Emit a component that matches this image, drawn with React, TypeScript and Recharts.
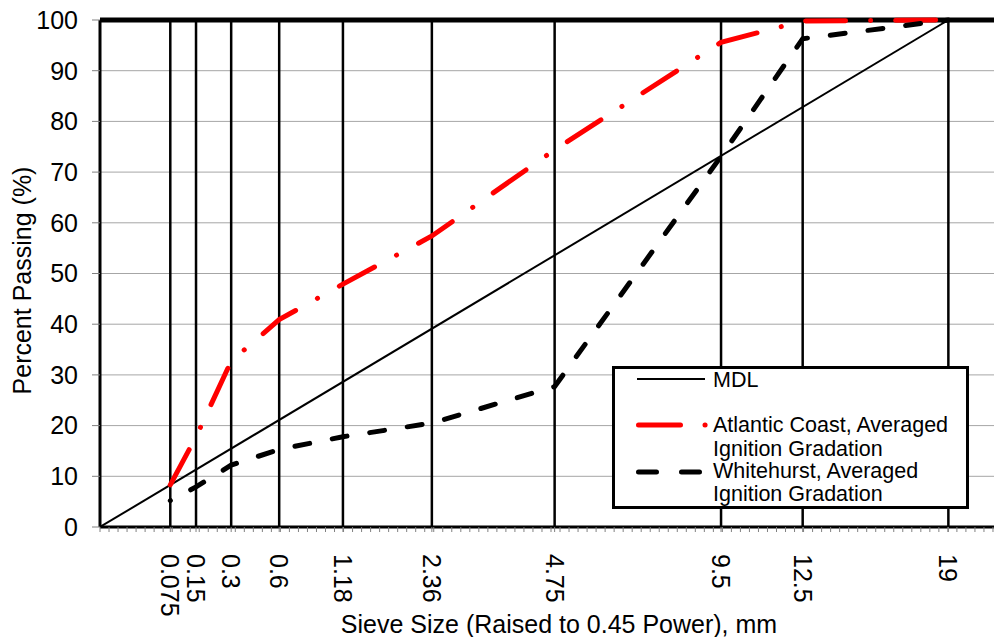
import { LineChart, Line, XAxis, YAxis, CartesianGrid, ReferenceLine } from "recharts";

const FONT = '"Liberation Sans", Arial, sans-serif';

// sieve sizes, mm
const sieves = [0.075, 0.15, 0.3, 0.6, 1.18, 2.36, 4.75, 9.5, 12.5, 19];
const sieveLabels = ["0.075", "0.15", "0.3", "0.6", "1.18", "2.36", "4.75", "9.5", "12.5", "19"];

// percent passing
const atlantic = [8.3, 17.8, 32.7, 40.9, 47.9, 57.4, 74.4, 95.6, 99.8, 100];
const whitehurst = [5.2, 7.9, 12.2, 15.3, 17.8, 20.5, 27.7, 73.1, 96.3, 100];
const mdlSizes = [0, 19];
const mdl = [0, 100];

const yTicks = [0, 10, 20, 30, 40, 50, 60, 70, 80, 90, 100];

const pow = (s: number) => Math.pow(s, 0.45);
const sieveX = sieves.map(pow);
// small unlabeled ticks along the x axis
const minorTicks = Array.from({ length: 101 }, (_, i) => +(i * 0.04).toFixed(2));

const atlanticData = sieves.map((s, i) => ({ x: pow(s), v: atlantic[i] }));
const whitehurstData = sieves.map((s, i) => ({ x: pow(s), v: whitehurst[i] }));
const mdlData = mdlSizes.map((s, i) => ({ x: pow(s), v: mdl[i] }));

function SieveTick(props: any) {
  const { x, y, payload } = props;
  const idx = sieveX.findIndex((v) => Math.abs(v - payload.value) < 1e-6);
  if (idx < 0) return <g />;
  const ty = y + 20;
  return (
    <text
      x={x}
      y={ty}
      transform={`rotate(90, ${x}, ${ty})`}
      textAnchor="start"
      dominantBaseline="central"
      fontSize={25}
      fontFamily={FONT}
      fill="#000"
    >
      {sieveLabels[idx]}
    </text>
  );
}

function ChartLegend() {
  const t = { fontSize: 21.5, fontFamily: FONT, fill: "#000", dominantBaseline: "central" as const };
  return (
    <div
      style={{
        position: "absolute",
        left: 612,
        top: 366,
        width: 357,
        height: 143,
        border: "3px solid #000",
        boxSizing: "border-box",
        background: "#fff",
      }}
    >
      <svg width={351} height={137} style={{ position: "absolute", left: 0, top: 0, overflow: "visible" }}>
        <g transform="translate(-3,-3)">
          <line x1={25} x2={93} y1={13} y2={13} stroke="#000" strokeWidth={2} />
          <text x={101} y={14} {...t}>MDL</text>
          <line x1={26.5} x2={94} y1={59} y2={59} stroke="#ff0000" strokeWidth={5} strokeLinecap="round" strokeDasharray="42 24.5 0.1 100" />
          <text x={101} y={59} {...t}>Atlantic Coast, Averaged</text>
          <text x={101} y={83} {...t}>Ignition Gradation</text>
          <line x1={26.5} x2={88} y1={106} y2={106} stroke="#000" strokeWidth={5} strokeLinecap="round" strokeDasharray="18 25" />
          <text x={101} y={105} {...t}>Whitehurst, Averaged</text>
          <text x={101} y={128} {...t}>Ignition Gradation</text>
        </g>
      </svg>
    </div>
  );
}

export default function App() {
  return (
    <div style={{ position: "absolute", left: 0, top: 0, width: 994, height: 637, overflow: "hidden", background: "#fff" }}>
      <LineChart width={1002} height={637} margin={{ top: 20, right: 0, bottom: 0, left: 0 }}>
        <CartesianGrid vertical={false} stroke="#a6a6a6" strokeWidth={1} />
        <XAxis
          type="number"
          dataKey="x"
          domain={[0, 4]}
          ticks={[...minorTicks, ...sieveX]}
          interval={0}
          allowDataOverflow
          height={110}
          axisLine={{ stroke: "#000", strokeWidth: 3 }}
          tickLine={{ stroke: "#808080" }}
          tickSize={5}
          tick={<SieveTick />}
          label={{
            value: "Sieve Size (Raised to 0.45 Power), mm",
            position: "insideBottom",
            offset: 4,
            dx: 8,
            fontSize: 25,
            fontFamily: FONT,
            fill: "#000",
          }}
        />
        <YAxis
          type="number"
          domain={[0, 100]}
          ticks={yTicks}
          interval={0}
          width={100}
          axisLine={{ stroke: "#000", strokeWidth: 3 }}
          tickLine={{ stroke: "#808080" }}
          tickSize={8}
          tickMargin={14}
          tick={{ fontSize: 25, fontFamily: FONT, fill: "#000" }}
          label={{
            value: "Percent Passing (%)",
            angle: -90,
            position: "insideLeft",
            offset: 22,
            dy: 7,
            style: { textAnchor: "middle" },
            fontSize: 25,
            fontFamily: FONT,
            fill: "#000",
          }}
        />
        {sieveX.map((v, i) => (
          <ReferenceLine key={i} x={v} stroke="#000" strokeWidth={2.5} />
        ))}
        <ReferenceLine y={100} stroke="#000" strokeWidth={5} />
        <Line
          data={mdlData}
          dataKey="v"
          stroke="#000"
          strokeWidth={2}
          dot={false}
          isAnimationActive={false}
        />
        <Line
          data={atlanticData}
          dataKey="v"
          stroke="#ff0000"
          strokeWidth={5}
          strokeLinecap="round"
          strokeDasharray="40 25 0.1 25"
          dot={false}
          isAnimationActive={false}
        />
        <Line
          data={whitehurstData}
          dataKey="v"
          stroke="#000"
          strokeWidth={5}
          strokeLinecap="round"
          strokeDasharray="15 23"
          strokeDashoffset={14.9}
          dot={false}
          isAnimationActive={false}
        />
      </LineChart>
      <ChartLegend />
    </div>
  );
}
